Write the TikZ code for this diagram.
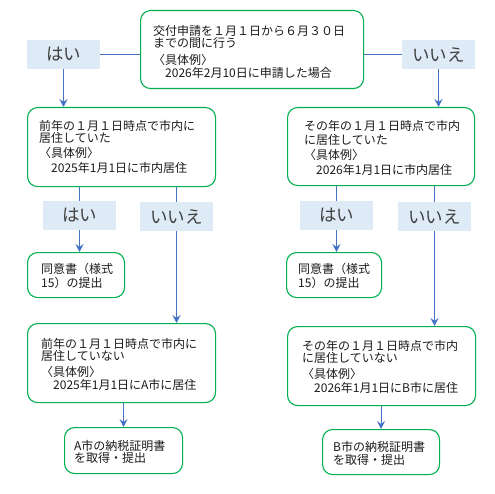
\documentclass[tikz,border=0pt]{standalone}
\usepackage{fontspec}
\setmainfont{Noto Sans CJK JP}
\usetikzlibrary{arrows.meta}
\definecolor{gbd}{HTML}{00B050}
\definecolor{bln}{HTML}{4472C4}
\definecolor{lbf}{HTML}{DEEBF7}
\definecolor{lbt}{HTML}{404040}
\definecolor{txc}{HTML}{1A1A1A}
\tikzset{
  gbox/.style={draw=gbd, line width=1.1pt, rounded corners=10pt, anchor=north west, inner sep=0pt},
  lab/.style={fill=lbf, text=lbt, inner sep=0pt, font=\fontsize{17.5}{17.5}\selectfont},
  tl/.style={anchor=base west, inner sep=0pt, text=txc, font=\fontsize{12}{12}\selectfont},
  conn/.style={draw=bln, line width=1pt},
  arr/.style={conn, -{Stealth[length=8pt,width=8pt,inset=3pt]}},
}
\begin{document}
\begin{tikzpicture}[x=1pt,y=-1pt]
\useasboundingbox (0,0) rectangle (494,494);
% boxes
\node[gbox, minimum width=223pt, minimum height=78pt] (b1) at (140,10) {};
\node[gbox, minimum width=188pt, minimum height=79pt] (b2L) at (27,107) {};
\node[gbox, minimum width=187pt, minimum height=78pt] (b2R) at (287,107) {};
\node[gbox, minimum width=97pt, minimum height=45pt] (dL) at (27,252) {};
\node[gbox, minimum width=95pt, minimum height=45pt] (dR) at (286,252) {};
\node[gbox, minimum width=188pt, minimum height=79pt] (b3L) at (27,323) {};
\node[gbox, minimum width=188pt, minimum height=79pt] (b3R) at (287,326) {};
\node[gbox, minimum width=118pt, minimum height=46pt] (b4L) at (64,427) {};
\node[gbox, minimum width=117pt, minimum height=45pt] (b4R) at (322,429) {};
% labels
\node[lab, minimum width=73pt, minimum height=29pt] (y1) at (63.5,54.5) {はい};
\node[lab, minimum width=73pt, minimum height=29pt] (n1) at (438.5,54.5) {いいえ};
\node[lab, minimum width=73pt, minimum height=29pt] (y2L) at (79.5,215.5) {はい};
\node[lab, minimum width=73pt, minimum height=29pt] (n2L) at (176.5,216.5) {いいえ};
\node[lab, minimum width=73pt, minimum height=29pt] (y2R) at (336.5,215.5) {はい};
\node[lab, minimum width=73pt, minimum height=29pt] (n2R) at (434.5,216.5) {いいえ};
% texts top
\node[tl] (t1a) at (153,36) {交付申請を１月１日から６月３０日};
\node[tl] (t1b) at (153,48) {までの間に行う};
\node[tl] (t1c) at (153,64.5) {〈具体例〉};
\node[tl] (t1d) at (153,78) {　2026年2月10日に申請した場合};
% box2L
\node[tl] (t2a) at (39,130.5) {前年の１月１日時点で市内に};
\node[tl] (t2b) at (39,143) {居住していた};
\node[tl] (t2c) at (39,158) {〈具体例〉};
\node[tl] (t2d) at (39,172) {　2025年1月1日に市内居住};
% box2R
\node[tl] (t3a) at (304,130.5) {その年の１月１日時点で市内};
\node[tl] (t3b) at (304,144.5) {に居住していた};
\node[tl] (t3c) at (304,159.5) {〈具体例〉};
\node[tl] (t3d) at (304,174.5) {　2026年1月1日に市内居住};
% dL dR
\node[tl] (t4a) at (41,273.5) {同意書（様式};
\node[tl] (t4b) at (41,287.5) {15）の提出};
\node[tl] (t5a) at (298,273.5) {同意書（様式};
\node[tl] (t5b) at (298,287.5) {15）の提出};
% box3L
\node[tl] (t6a) at (41,348.5) {前年の１月１日時点で市内に};
\node[tl] (t6b) at (41,360.5) {居住していない};
\node[tl] (t6c) at (41,376) {〈具体例〉};
\node[tl] (t6d) at (41,389.5) {　2025年1月1日にA市に居住};
% box3R
\node[tl] (t7a) at (302,350) {その年の１月１日時点で市内};
\node[tl] (t7b) at (302,362) {に居住していない};
\node[tl] (t7c) at (302,378) {〈具体例〉};
\node[tl] (t7d) at (302,392) {　2026年1月1日にB市に居住};
% box4
\node[tl] (t8a) at (74,450.5) {A市の納税証明書};
\node[tl] (t8b) at (74,462) {を取得・提出};
\node[tl] (t9a) at (333,451) {B市の納税証明書};
\node[tl] (t9b) at (333,464) {を取得・提出};
% connectors
\draw[conn] (b1.west |- y1.east) -- (y1.east);
\draw[conn] (b1.east |- n1.west) -- (n1.west);
\draw[arr] (y1.south) -- (y1.south |- b2L.north);
\draw[arr] (n1.south) -- (n1.south |- b2R.north);
\draw[conn] (y2L.north |- b2L.south) -- (y2L.north);
\draw[conn] (n2L.north |- b2L.south) -- (n2L.north);
\draw[conn] (y2R.north |- b2R.south) -- (y2R.north);
\draw[conn] (n2R.north |- b2R.south) -- (n2R.north);
\draw[arr] (y2L.south) -- (y2L.south |- dL.north);
\draw[arr] (y2R.south) -- (y2R.south |- dR.north);
\draw[arr] (n2L.south) -- (n2L.south |- b3L.north);
\draw[arr] (n2R.south) -- (n2R.south |- b3R.north);
\draw[arr] (b4L.north |- b3L.south) -- (b4L.north);
\draw[arr] (b4R.north |- b3R.south) -- (b4R.north);
\end{tikzpicture}
\end{document}
